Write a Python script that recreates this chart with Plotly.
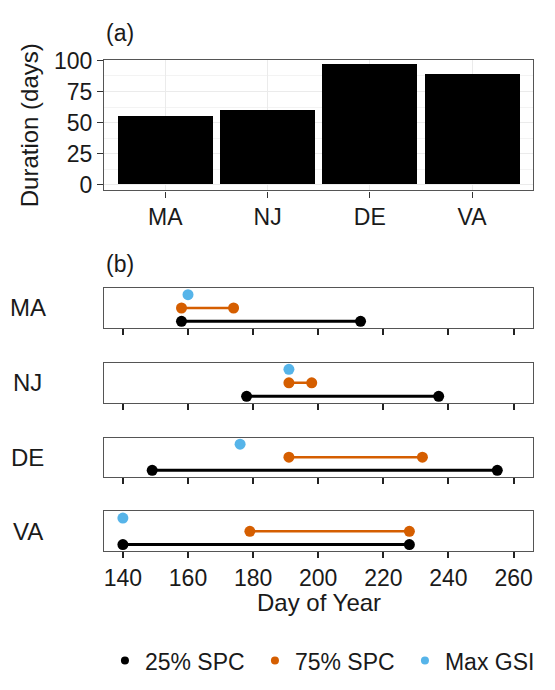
import plotly.graph_objects as go

# ---------------- data ----------------
states = ["MA", "NJ", "DE", "VA"]
duration_days = [55, 60, 97, 89]

spc25_start = [158, 178, 149, 140]
spc25_end = [213, 237, 255, 228]
spc75_start = [158, 191, 191, 179]
spc75_end = [174, 198, 232, 228]
max_gsi = [160, 191, 176, 140]

series_names = ["25% SPC", "75% SPC", "Max GSI"]
series_colors = ["#000000", "#D55E00", "#56B4E9"]
day_ticks = [140, 160, 180, 200, 220, 240, 260]
duration_ticks = [0, 25, 50, 75, 100]

# ---------------- layout geometry (pixels) ----------------
W, H = 555, 690
FONT = "Liberation Sans, Arial, Helvetica, sans-serif"


def py(px):
    return 1 - px / H


def pxx(px):
    return px / W


x_dom = [pxx(107.5), pxx(551.3)]
top_dom = [py(182.7), py(48.5)]
panel_px = [(283.3, 324.3), (360.0, 401.7), (437.3, 477.7), (513.3, 554.3)]

fig = go.Figure()

# ---------------- (a) bar chart ----------------
fig.add_trace(go.Bar(x=states, y=duration_days, marker=dict(color="black", line=dict(width=0)),
                     width=0.93, showlegend=False, xaxis="x", yaxis="y"))

layout = dict(
    width=W, height=H,
    margin=dict(l=0, r=0, t=0, b=0),
    paper_bgcolor="white", plot_bgcolor="white",
    font=dict(family=FONT, size=23, color="#1a1a1a"),
    showlegend=True,
    bargap=0,
)

layout["xaxis"] = dict(domain=x_dom, anchor="y", type="category", range=[-0.6, 3.6],
                       showline=True, linecolor="#555555", linewidth=1.2, mirror=True,
                       ticks="outside", ticklen=6, tickwidth=1.2, tickcolor="#333333",
                       showgrid=True, gridcolor="#EBEBEB", gridwidth=1,
                       tickfont=dict(size=23, color="#1a1a1a"), fixedrange=True)
layout["yaxis"] = dict(domain=top_dom, anchor="x", range=[-4.7, 100.3],
                       tickvals=duration_ticks, showline=True, linecolor="#555555", linewidth=1.2,
                       mirror=True, ticks="outside", ticklen=6, tickwidth=1.2, tickcolor="#333333",
                       showgrid=True, gridcolor="#EBEBEB", gridwidth=1, zeroline=False,
                       minor=dict(tickvals=[12.5, 37.5, 62.5, 87.5], showgrid=True,
                                  gridcolor="#F3F3F3", gridwidth=1, ticks=""),
                       tickfont=dict(size=23, color="#1a1a1a"), fixedrange=True)

# ---------------- (b) dumbbell panels ----------------
for i, st in enumerate(states):
    n = i + 2
    xa = f"x{n}"
    ya = f"y{n}"
    top_px, bot_px = panel_px[i]
    layout[f"xaxis{n}"] = dict(domain=x_dom, anchor=ya, range=[134.2, 266.1],
                               tickvals=day_ticks, showticklabels=(i == 3),
                               showline=True, linecolor="#555555", linewidth=1.2, mirror=True,
                               ticks="outside", ticklen=6, tickwidth=1.6, tickcolor="#222222",
                               showgrid=False, zeroline=False,
                               tickfont=dict(size=23, color="#1a1a1a"), fixedrange=True)
    layout[f"yaxis{n}"] = dict(domain=[py(bot_px), py(top_px)], anchor=xa, range=[0.5, 3.5],
                               showticklabels=False, ticks="", showgrid=False, zeroline=False,
                               showline=True, linecolor="#555555", linewidth=1.2, mirror=True,
                               fixedrange=True)

    # 25% SPC segment
    fig.add_trace(go.Scatter(x=[spc25_start[i], spc25_end[i]], y=[1, 1], mode="lines+markers",
                             line=dict(color=series_colors[0], width=3),
                             marker=dict(color=series_colors[0], size=11),
                             showlegend=False, xaxis=xa, yaxis=ya, hoverinfo="x"))
    # 75% SPC segment
    fig.add_trace(go.Scatter(x=[spc75_start[i], spc75_end[i]], y=[2, 2], mode="lines+markers",
                             line=dict(color=series_colors[1], width=2.5),
                             marker=dict(color=series_colors[1], size=11),
                             showlegend=False, xaxis=xa, yaxis=ya, hoverinfo="x"))
    # Max GSI point
    fig.add_trace(go.Scatter(x=[max_gsi[i]], y=[3], mode="markers",
                             marker=dict(color=series_colors[2], size=11),
                             showlegend=False, xaxis=xa, yaxis=ya, hoverinfo="x"))

# legend entries (markers only)
for name, col in zip(series_names, series_colors):
    fig.add_trace(go.Scatter(x=[None], y=[None], mode="markers", name=name,
                             marker=dict(color=col, size=8), xaxis="x5", yaxis="y5"))

layout["legend"] = dict(orientation="h", x=pxx(341), xanchor="center", y=py(667), yanchor="middle",
                        font=dict(size=23, color="#1a1a1a"), bgcolor="rgba(0,0,0,0)",
                        itemwidth=30, tracegroupgap=0, entrywidth=105, entrywidthmode="pixels")

# ---------------- annotations ----------------
ann = []
ann.append(dict(text="(a)", x=pxx(107), y=py(21), xref="paper", yref="paper",
                xanchor="left", yanchor="middle", showarrow=False, font=dict(size=23)))
ann.append(dict(text="(b)", x=pxx(107), y=py(258), xref="paper", yref="paper",
                xanchor="left", yanchor="middle", showarrow=False, font=dict(size=23)))
ann.append(dict(text="Duration (days)", x=pxx(30), y=py(115.6), xref="paper", yref="paper",
                xanchor="center", yanchor="middle", textangle=-90, showarrow=False,
                font=dict(size=24)))
ann.append(dict(text="Day of Year", x=pxx(329.4), y=py(607), xref="paper", yref="paper",
                xanchor="center", yanchor="middle", showarrow=False, font=dict(size=24)))
for i, st in enumerate(states):
    top_px, bot_px = panel_px[i]
    ann.append(dict(text=st, x=pxx(28.5), y=py((top_px + bot_px) / 2), xref="paper", yref="paper",
                    xanchor="center", yanchor="middle", showarrow=False, font=dict(size=24)))
layout["annotations"] = ann

fig.update_layout(**layout)
fig.write_html("out.html", config={"displayModeBar": False},
               post_script="document.body.style.margin='0';document.body.style.padding='0';"
                           "document.body.style.overflow='hidden';")
